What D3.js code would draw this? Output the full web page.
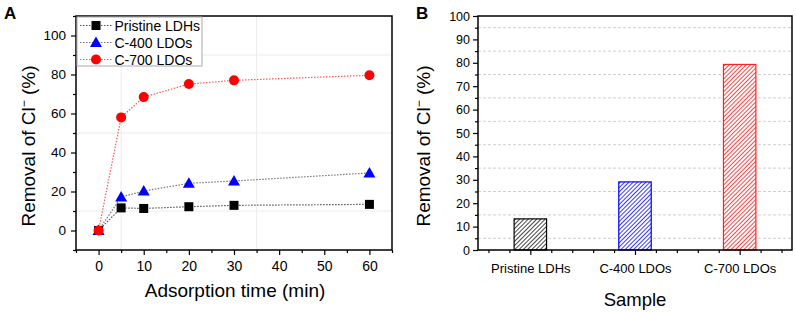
<!DOCTYPE html>
<html>
<head>
<meta charset="utf-8">
<script src="https://cdn.jsdelivr.net/npm/d3@7"></script>
<style>
body { margin: 0; background: #fff; }
svg text { font-family: "Liberation Sans", Arial, sans-serif; fill: #000; }
</style>
</head>
<body>
<div id="chart"></div>
<script>
// panel A: removal vs time
var times = [0, 5, 10, 20, 30, 60];
var pristineVals = [0, 11.6, 11.3, 12.2, 12.9, 13.4];
var c400Vals = [0, 17.2, 20.2, 24.2, 25.4, 29.5];
var c700Vals = [0, 58.0, 68.4, 75.1, 77.0, 79.6];
var seriesNames = ["Pristine LDHs", "C-400 LDOs", "C-700 LDOs"];

// panel B: removal at 60 min
var samples = ["Pristine LDHs", "C-400 LDOs", "C-700 LDOs"];
var sampleVals = [13.3, 29.1, 79.3];

var xTicksA = [0, 10, 20, 30, 40, 50, 60];
var yTicksA = [0, 20, 40, 60, 80, 100];
var yTicksB = [0, 10, 20, 30, 40, 50, 60, 70, 80, 90, 100];

var w = 796, h = 312;
var svg = d3.select("#chart").append("svg").attr("width", w).attr("height", h);

var defs = svg.append("defs");
function addHatch(id, color) {
    var p = defs.append("pattern")
        .attr("id", id)
        .attr("patternUnits", "userSpaceOnUse")
        .attr("width", 3).attr("height", 3)
        .attr("patternTransform", "rotate(45)");
    p.append("rect").attr("width", 3).attr("height", 3).attr("fill", "#fff");
    p.append("line").attr("x1", 0).attr("y1", 0).attr("x2", 0).attr("y2", 3)
        .attr("stroke", color).attr("stroke-width", 1.8);
}
addHatch("hatchK", "#333");
addHatch("hatchB", "#2222ff");
addHatch("hatchR", "#ff3030");

// ---------- Panel A ----------
var ax = { left: 76, top: 16, right: 392, bottom: 250 };
var xA = d3.scaleLinear().domain([-5, 65]).range([ax.left, ax.right]);
var yA = d3.scaleLinear().domain([-10, 110]).range([ax.bottom, ax.top]);

var gA = svg.append("g");

// faint grid
gA.selectAll("line.vg").data([5, 35]).enter().append("line")
    .attr("x1", d => xA(d)).attr("x2", d => xA(d))
    .attr("y1", ax.top).attr("y2", ax.bottom)
    .attr("stroke", "#ececec").attr("stroke-width", 1);
gA.selectAll("line.hg").data([10, 50, 90]).enter().append("line")
    .attr("x1", ax.left).attr("x2", ax.right)
    .attr("y1", d => yA(d)).attr("y2", d => yA(d))
    .attr("stroke", "#ececec").attr("stroke-width", 1);

var xAxisA = d3.axisBottom(xA).tickValues(xTicksA).tickSize(5).tickPadding(6).tickFormat(d3.format("d"));
var xMinorA = d3.axisBottom(xA).tickValues([-5, 5, 15, 25, 35, 45, 55, 65]).tickSize(3).tickFormat("");
var yAxisA = d3.axisLeft(yA).tickValues(yTicksA).tickSize(5).tickPadding(5).tickFormat(d3.format("d"));
var yMinorA = d3.axisLeft(yA).tickValues([-10, 10, 30, 50, 70, 90, 110]).tickSize(3).tickFormat("");

function styleAxis(g, fs) {
    g.select(".domain").remove();
    g.selectAll("line").attr("stroke", "#000").attr("stroke-width", 1.2);
    g.selectAll("text").style("font-size", fs + "px").attr("fill", "#000");
}

gA.append("g").attr("transform", "translate(0," + ax.bottom + ")").call(xAxisA).call(g => styleAxis(g, 14));
gA.append("g").attr("transform", "translate(0," + ax.bottom + ")").call(xMinorA).call(g => styleAxis(g, 14));
gA.append("g").attr("transform", "translate(" + ax.left + ",0)").call(yAxisA).call(g => styleAxis(g, 13.5));
gA.append("g").attr("transform", "translate(" + ax.left + ",0)").call(yMinorA).call(g => styleAxis(g, 13.5));

gA.append("rect")
    .attr("x", ax.left).attr("y", ax.top)
    .attr("width", ax.right - ax.left).attr("height", ax.bottom - ax.top)
    .attr("fill", "none").attr("stroke", "#000").attr("stroke-width", 1.5);

var seriesA = [
    { name: seriesNames[0], vals: pristineVals, line: "#555", mark: "square", color: "#000" },
    { name: seriesNames[1], vals: c400Vals, line: "#777", mark: "triangle", color: "#0000ff" },
    { name: seriesNames[2], vals: c700Vals, line: "#ff5555", mark: "circle", color: "#ff0000" }
];

var lineA = d3.line()
    .x((d, i) => xA(times[i]))
    .y(d => yA(d));

function drawMarker(g, kind, color, x, y) {
    if (kind === "square") {
        g.append("rect").attr("x", x - 4.5).attr("y", y - 4.5).attr("width", 9).attr("height", 9).attr("fill", color);
    } else if (kind === "triangle") {
        g.append("path").attr("d", "M" + x + "," + (y - 6) + "L" + (x + 6) + "," + (y + 4.5) + "L" + (x - 6) + "," + (y + 4.5) + "Z").attr("fill", color);
    } else {
        g.append("circle").attr("cx", x).attr("cy", y).attr("r", 5).attr("fill", color);
    }
}

seriesA.forEach(function(s) {
    gA.append("path")
        .datum(s.vals)
        .attr("d", lineA)
        .attr("fill", "none")
        .attr("stroke", s.line)
        .attr("stroke-width", 1.2)
        .attr("stroke-dasharray", "1.5,1.5");
});
seriesA.forEach(function(s) {
    s.vals.forEach(function(v, i) {
        drawMarker(gA, s.mark, s.color, xA(times[i]), yA(v));
    });
});

// legend
var lg = gA.append("g");
lg.append("rect").attr("x", 77).attr("y", 17).attr("width", 125).attr("height", 49)
    .attr("fill", "#fff").attr("stroke", "#aaa").attr("stroke-width", 1);
seriesA.forEach(function(s, i) {
    var yy = 25.5 + i * 17;
    lg.append("line").attr("x1", 80).attr("x2", 112).attr("y1", yy).attr("y2", yy)
        .attr("stroke", s.line).attr("stroke-width", 1.2).attr("stroke-dasharray", "1.5,1.5");
    drawMarker(lg, s.mark, s.color, 96, yy);
    lg.append("text").attr("x", 114.5).attr("y", yy + 5).style("font-size", "14px").text(s.name);
});

gA.append("text")
    .attr("x", (ax.left + ax.right) / 2 + 1).attr("y", 297)
    .attr("text-anchor", "middle").style("font-size", "19px")
    .text("Adsorption time (min)");

function yLabel(g, x, y) {
    var t = g.append("text")
        .attr("transform", "translate(" + x + "," + y + ") rotate(-90)")
        .attr("text-anchor", "middle").style("font-size", "19px");
    t.append("tspan").text("Removal of Cl");
    t.append("tspan").attr("dy", -7).style("font-size", "12px").text("\u2212");
    t.append("tspan").attr("dy", 7).text(" (%)");
}
yLabel(gA, 35, 146);

svg.append("text").attr("x", 4).attr("y", 19).style("font-size", "17px").style("font-weight", "bold").text("A");

// ---------- Panel B ----------
var bx = { left: 478, top: 16, right: 792, bottom: 250 };
var xB = d3.scaleLinear().domain([0.5, 3.5]).range([bx.left, bx.right]);
var yB = d3.scaleLinear().domain([0, 100]).range([bx.bottom, bx.top]);

var gB = svg.append("g");

gB.selectAll("line.hg").data(d3.range(5, 100, 10)).enter().append("line")
    .attr("x1", bx.left).attr("x2", bx.right)
    .attr("y1", d => yB(d)).attr("y2", d => yB(d))
    .attr("stroke", "#cfcfcf").attr("stroke-width", 1).attr("stroke-dasharray", "3,2");

var barW = 0.31;
var fills = ["url(#hatchK)", "url(#hatchB)", "url(#hatchR)"];
var borders = ["#000", "#0000ff", "#ff2020"];
gB.selectAll("rect.bar").data(sampleVals).enter().append("rect")
    .attr("x", (d, i) => xB(i + 1 - barW / 2))
    .attr("width", (d, i) => xB(i + 1 + barW / 2) - xB(i + 1 - barW / 2))
    .attr("y", d => yB(d))
    .attr("height", d => yB(0) - yB(d))
    .attr("fill", (d, i) => fills[i])
    .attr("stroke", (d, i) => borders[i])
    .attr("stroke-width", 1.2);

var xAxisB = d3.axisBottom(xB).tickValues([1, 2, 3]).tickSize(5).tickPadding(9)
    .tickFormat((d) => samples[d - 1]);
var xMinorB = d3.axisBottom(xB).tickValues(d3.range(3, 18).map(k => k / 5).filter(v => v % 1 !== 0)).tickSize(3).tickFormat("");
var yAxisB = d3.axisLeft(yB).tickValues(yTicksB).tickSize(5).tickPadding(3).tickFormat(d3.format("d"));
var yMinorB = d3.axisLeft(yB).tickValues(d3.range(5, 100, 10)).tickSize(3).tickFormat("");

gB.append("g").attr("transform", "translate(0," + bx.bottom + ")").call(xAxisB).call(g => styleAxis(g, 13));
gB.append("g").attr("transform", "translate(0," + bx.bottom + ")").call(xMinorB).call(g => styleAxis(g, 13));
gB.append("g").attr("transform", "translate(" + bx.left + ",0)").call(yAxisB).call(g => styleAxis(g, 12.5));
gB.append("g").attr("transform", "translate(" + bx.left + ",0)").call(yMinorB).call(g => styleAxis(g, 12.5));

gB.append("rect")
    .attr("x", bx.left).attr("y", bx.top)
    .attr("width", bx.right - bx.left).attr("height", bx.bottom - bx.top)
    .attr("fill", "none").attr("stroke", "#000").attr("stroke-width", 1.5);

gB.append("text")
    .attr("x", (bx.left + bx.right) / 2).attr("y", 306)
    .attr("text-anchor", "middle").style("font-size", "18.5px")
    .text("Sample");

yLabel(gB, 430, 146);

svg.append("text").attr("x", 416).attr("y", 19).style("font-size", "17px").style("font-weight", "bold").text("B");
</script>
</body>
</html>
